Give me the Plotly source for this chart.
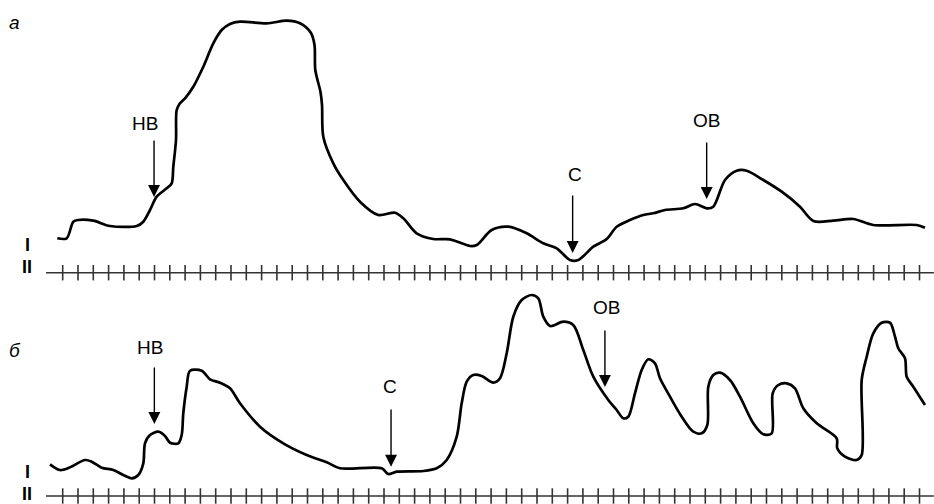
import plotly.graph_objects as go

# ---- Panel "а": signal trace (x in tick units, value = amplitude above baseline) ----
a_x = [-0.353, 0.261, 0.693, 1.020, 2.000, 3.092, 4.837, 5.268, 5.706, 6.144, 6.797, 7.124,
       7.229, 7.405, 7.451, 7.667, 7.993, 8.536, 9.190, 9.843, 10.392, 10.935, 11.588, 13.333,
       14.641, 15.510, 16.229, 16.458, 16.510, 16.850, 16.948, 17.033, 17.686, 18.340, 19.431,
       20.627, 21.719, 22.261, 23.137, 24.222, 25.314, 26.621, 27.059, 28.039, 29.124, 30.327,
       31.412, 32.288, 33.157, 33.699, 34.680, 35.556, 36.209, 37.078, 37.948, 38.601, 39.366,
       40.562, 41.327, 42.092, 42.523, 43.288, 44.052, 44.706, 45.791, 46.993, 48.190, 49.059,
       50.366, 51.673, 52.980, 55.817, 56.359]
a_y = [34.4, 34.4, 51.0, 52.7, 52.0, 46.7, 46.7, 51.0, 62.7, 76.0, 84.4, 89.4,
       106.0, 132.7, 162.7, 169.4, 174.4, 186.0, 206.0, 229.4, 242.7, 248.7, 251.0, 249.4,
       252.0, 249.4, 239.7, 227.7, 202.7, 180.7, 167.7, 136.0, 109.4, 92.7, 71.0,
       57.7, 60.0, 54.4, 39.4, 33.7, 33.4, 26.7, 27.7, 42.7, 46.0, 39.4,
       29.4, 24.4, 12.7, 12.7, 26.0, 33.7, 46.0, 52.7, 57.7, 59.4, 62.7,
       64.4, 68.7, 64.4, 66.0, 92.7, 102.0, 102.0, 92.7, 81.0, 66.0, 51.7,
       52.0, 53.7, 47.7, 47.7, 45.0]

# ---- Panel "б": signal trace ----
b_x = [-0.830, -0.176, 0.477, 1.458, 1.895, 2.549, 3.307, 3.961, 4.510, 4.941, 5.268, 5.379,
       5.706, 6.248, 6.686, 7.013, 7.556, 7.778, 7.882, 8.105, 8.320, 9.085, 9.627, 10.281,
       10.935, 11.588, 12.895, 14.418, 15.948, 17.255, 18.124, 20.850, 21.281, 21.830, 23.569,
       24.444, 25.098, 25.752, 26.078, 26.405, 26.837, 27.386, 28.144, 28.582, 29.020, 29.451,
       30.000, 30.654, 31.085, 31.412, 31.850, 32.719, 33.373, 34.026, 34.680, 35.660, 36.209,
       36.641, 36.967, 37.405, 37.843, 38.275, 38.710, 39.039, 39.693, 40.458, 41.216, 41.765,
       42.131, 42.196, 42.523, 42.961, 43.614, 44.268, 45.137, 45.791, 46.340, 46.405, 46.771,
       47.320, 47.863, 48.405, 49.281, 50.588, 50.627, 51.131, 51.895, 52.222, 52.222, 52.549,
       52.980, 53.529, 54.072, 54.399, 54.614, 55.052, 55.163, 55.595, 56.359]
b_y = [31.7, 26.0, 28.7, 36.0, 34.3, 28.3, 26.0, 21.0, 17.7, 21.0, 32.7, 52.7,
       61.0, 64.3, 60.0, 53.3, 52.7, 61.0, 82.7, 109.3, 125.3, 125.3, 116.7, 113.3,
       107.7, 92.7, 69.3, 52.7, 41.0, 33.7, 27.7, 27.7, 22.0, 24.3, 25.0,
       27.7, 36.0, 59.3, 92.7, 114.3, 121.0, 120.0, 113.3, 117.7, 142.7, 179.3,
       196.0, 201.0, 197.7, 179.3, 170.0, 174.3, 171.0, 146.0, 119.3, 96.0, 86.0,
       77.7, 79.3, 102.7, 126.0, 136.7, 132.7, 117.7, 99.3, 79.3, 64.3, 62.7,
       71.0, 109.3, 121.0, 123.3, 116.0, 99.3, 72.7, 61.7, 62.7, 102.7, 111.0,
       112.7, 107.7, 87.7, 72.7, 57.7, 47.7, 39.3, 36.0, 41.0, 116.0, 139.3,
       162.7, 173.3, 173.3, 159.3, 147.7, 137.7, 119.3, 109.3, 91.0]

# ---- time scale ticks ----
tick_x = list(range(57))
axis_span = [-1.09, 56.94]

# ---- event markers: label, text x, text y, arrow x, arrow tail, arrow tip ----
a_events = [("НВ", 5.39, 149.7, 5.97, 133.7, 75.7),
            ("С", 33.48, 98.7, 33.33, 78.7, 19.7),
            ("ОВ", 42.05, 152.7, 42.09, 131.7, 73.7)]
b_events = [("НВ", 5.71, 149.0, 5.99, 130.0, 72.0),
            ("С", 21.39, 109.3, 21.46, 88.0, 29.3),
            ("ОВ", 35.55, 188.5, 35.44, 167.0, 109.0)]

# panel labels / channel labels
panel_labels = [("а", -3.18, 250.7, "y"), ("б", -3.12, 146.0, "y2")]
channel_labels = [("I", -2.33, 27.7, "y"), ("II", -2.33, 6.0, "y"),
                  ("I", -2.33, 24.0, "y2"), ("II", -2.33, 1.8, "y2")]

FONT = "Liberation Sans, Arial, sans-serif"

fig = go.Figure()

for xs, ys, xa, ya in [(a_x, a_y, "x", "y"), (b_x, b_y, "x2", "y2")]:
    # baseline
    fig.add_trace(go.Scatter(x=axis_span, y=[0, 0], mode="lines",
                             line=dict(color="#333333", width=1.5),
                             xaxis=xa, yaxis=ya, hoverinfo="skip"))
    # tick crosses
    fig.add_trace(go.Scatter(x=tick_x, y=[0] * len(tick_x), mode="markers",
                             marker=dict(symbol="line-ns", size=11,
                                         line=dict(color="#333333", width=1.6)),
                             xaxis=xa, yaxis=ya, hoverinfo="skip"))
    # signal
    fig.add_trace(go.Scatter(x=xs, y=ys, mode="lines",
                             line=dict(color="black", width=2.7, shape="spline", smoothing=0.85),
                             xaxis=xa, yaxis=ya))

annotations = []
for events, xr, yr in [(a_events, "x", "y"), (b_events, "x2", "y2")]:
    for lab, tx, ty, axx, tail, tip in events:
        annotations.append(dict(text=lab, x=tx, y=ty, xref=xr, yref=yr, showarrow=False,
                                font=dict(family=FONT, size=19, color="black")))
        annotations.append(dict(text="", x=axx, y=tip, ax=axx, ay=tail, xref=xr, yref=yr,
                                axref=xr, ayref=yr, showarrow=True, arrowhead=2,
                                arrowsize=1.7, arrowwidth=1.4, arrowcolor="black"))

for lab, x, y, yr in panel_labels:
    xr = "x" if yr == "y" else "x2"
    annotations.append(dict(text="<i>%s</i>" % lab, x=x, y=y, xref=xr, yref=yr, showarrow=False,
                            font=dict(family=FONT, size=19, color="black")))
for lab, x, y, yr in channel_labels:
    xr = "x" if yr == "y" else "x2"
    annotations.append(dict(text="<b>%s</b>" % lab, x=x, y=y, xref=xr, yref=yr, showarrow=False,
                            font=dict(family=FONT, size=18, color="black")))

xr_range = [-4.098, 56.948]
fig.update_layout(
    width=934, height=504,
    margin=dict(l=0, r=0, t=0, b=0),
    paper_bgcolor="white", plot_bgcolor="white",
    showlegend=False,
    xaxis=dict(domain=[0, 1], range=xr_range, visible=False, anchor="y"),
    yaxis=dict(domain=[0.4246, 1], range=[-17.3, 272.7], visible=False, anchor="x"),
    xaxis2=dict(domain=[0, 1], range=xr_range, visible=False, anchor="y2"),
    yaxis2=dict(domain=[0, 0.4246], range=[-8, 206], visible=False, anchor="x2"),
    annotations=annotations,
)

fig.write_html("out.html", config={"displayModeBar": False},
               post_script="document.body.style.margin='0px';document.body.style.overflow='hidden';")
